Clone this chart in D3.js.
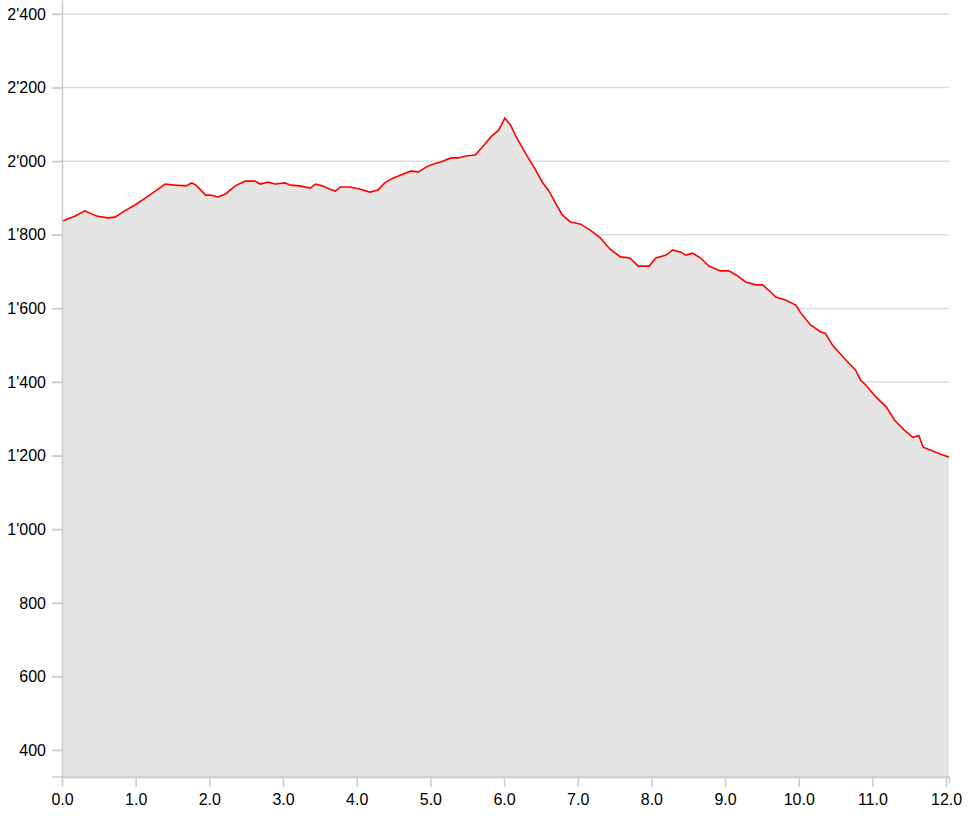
<!DOCTYPE html>
<html>
<head>
<meta charset="utf-8">
<script src="https://cdn.jsdelivr.net/npm/d3@7"></script>
<style>
  body { margin: 0; background: #fff; }
  .axis text { font-family: Arial, "Liberation Sans", sans-serif; font-size: 16px; fill: #000; }
  .axis line, .axis path { stroke: #ccc; stroke-width: 1.5; }
  .grid line { stroke: #ddd; stroke-width: 1.5; }
</style>
</head>
<body>
<div id="chart"></div>
<script>
var width = 969, height = 816;
var plotLeft = 62, plotRight = 949, plotTop = 0, plotBottom = 777;

// distance along track (km)
var distances = [
  0.00, 0.18, 0.31, 0.38, 0.47, 0.62, 0.72, 0.85, 0.99, 1.19,
  1.40, 1.53, 1.68, 1.76, 1.82, 1.95, 2.01, 2.12, 2.22, 2.35,
  2.49, 2.62, 2.69, 2.80, 2.89, 3.03, 3.10, 3.23, 3.37, 3.44,
  3.53, 3.64, 3.71, 3.78, 3.91, 4.05, 4.18, 4.29, 4.38, 4.49,
  4.59, 4.73, 4.84, 4.94, 5.03, 5.14, 5.28, 5.38, 5.48, 5.61,
  5.75, 5.82, 5.93, 6.01, 6.09, 6.16, 6.29, 6.43, 6.52, 6.60,
  6.70, 6.79, 6.90, 6.97, 7.04, 7.17, 7.31, 7.44, 7.58, 7.71,
  7.82, 7.97, 8.06, 8.20, 8.29, 8.40, 8.47, 8.56, 8.67, 8.78,
  8.94, 9.05, 9.15, 9.28, 9.42, 9.51, 9.59, 9.69, 9.82, 9.96,
  10.02, 10.16, 10.30, 10.36, 10.46, 10.64, 10.77, 10.84, 10.91, 11.05,
  11.19, 11.30, 11.43, 11.55, 11.63, 11.69, 11.79, 11.93, 12.04
];

// elevation (m)
var elevations = [
  1837, 1851, 1865, 1859, 1851, 1846, 1848, 1865, 1881, 1908,
  1938, 1935, 1933, 1941, 1935, 1908, 1908, 1903, 1911, 1933,
  1946, 1946, 1938, 1943, 1938, 1941, 1935, 1933, 1927, 1938,
  1933, 1924, 1919, 1930, 1930, 1924, 1916, 1922, 1941, 1954,
  1962, 1973, 1971, 1984, 1992, 1998, 2009, 2009, 2014, 2017,
  2049, 2066, 2085, 2117, 2098, 2068, 2022, 1976, 1943, 1922,
  1886, 1854, 1835, 1832, 1829, 1813, 1791, 1761, 1740, 1737,
  1715, 1715, 1737, 1745, 1759, 1753, 1745, 1750, 1737, 1715,
  1702, 1702, 1691, 1672, 1664, 1664, 1650, 1631, 1623, 1609,
  1590, 1555, 1536, 1533, 1500, 1460, 1433, 1405, 1392, 1359,
  1332, 1297, 1270, 1250, 1255, 1223, 1215, 1204, 1196
];

var xTicks = [0, 1, 2, 3, 4, 5, 6, 7, 8, 9, 10, 11, 12];
var yTicks = [400, 600, 800, 1000, 1200, 1400, 1600, 1800, 2000, 2200, 2400];

var data = distances.map(function (d, i) {
  return { dist: d, ele: elevations[i] };
});

var locale = d3.formatLocale({ decimal: '.', thousands: "'", grouping: [3], currency: ['', ''] });
var yFormat = locale.format(',');

var xScale = d3.scaleLinear()
  .domain([0, d3.max(distances)])
  .range([plotLeft, plotRight]);

var yScale = d3.scaleLinear()
  .domain([327, 2438])
  .range([plotBottom, plotTop]);

var svg = d3.select('#chart')
  .append('svg')
  .attr('width', width)
  .attr('height', height);

// gridlines
svg.append('g')
  .attr('class', 'grid')
  .selectAll('line')
  .data(yTicks)
  .enter()
  .append('line')
  .attr('x1', plotLeft - 10)
  .attr('x2', plotRight)
  .attr('y1', function (d) { return yScale(d); })
  .attr('y2', function (d) { return yScale(d); });

var area = d3.area()
  .x(function (d) { return xScale(d.dist); })
  .y0(plotBottom)
  .y1(function (d) { return yScale(d.ele); });

var line = d3.line()
  .x(function (d) { return xScale(d.dist); })
  .y(function (d) { return yScale(d.ele); });

svg.append('path')
  .datum(data)
  .attr('d', area)
  .attr('fill', '#e5e5e5');

svg.append('path')
  .datum(data)
  .attr('d', line)
  .attr('fill', 'none')
  .attr('stroke', '#ff0000')
  .attr('stroke-width', 1.6);

var yAxis = d3.axisLeft(yScale)
  .tickValues(yTicks)
  .tickFormat(yFormat)
  .tickSize(10)
  .tickSizeOuter(0)
  .tickPadding(6);

var xAxis = d3.axisBottom(xScale)
  .tickValues(xTicks)
  .tickFormat(d3.format('.1f'))
  .tickSize(10)
  .tickSizeOuter(6)
  .tickPadding(7);

var yAxisG = svg.append('g')
  .attr('class', 'axis')
  .attr('transform', 'translate(' + plotLeft + ',0)')
  .call(yAxis);
yAxisG.selectAll('.tick line').attr('stroke', '#ddd');

var xAxisG = svg.append('g')
  .attr('class', 'axis')
  .attr('transform', 'translate(0,' + plotBottom + ')')
  .call(xAxis);

// bottom baseline reaching under the y ticks
svg.append('line')
  .attr('x1', plotLeft - 10)
  .attr('x2', plotRight)
  .attr('y1', plotBottom)
  .attr('y2', plotBottom)
  .attr('stroke', '#ccc')
  .attr('stroke-width', 1.5);
</script>
</body>
</html>
